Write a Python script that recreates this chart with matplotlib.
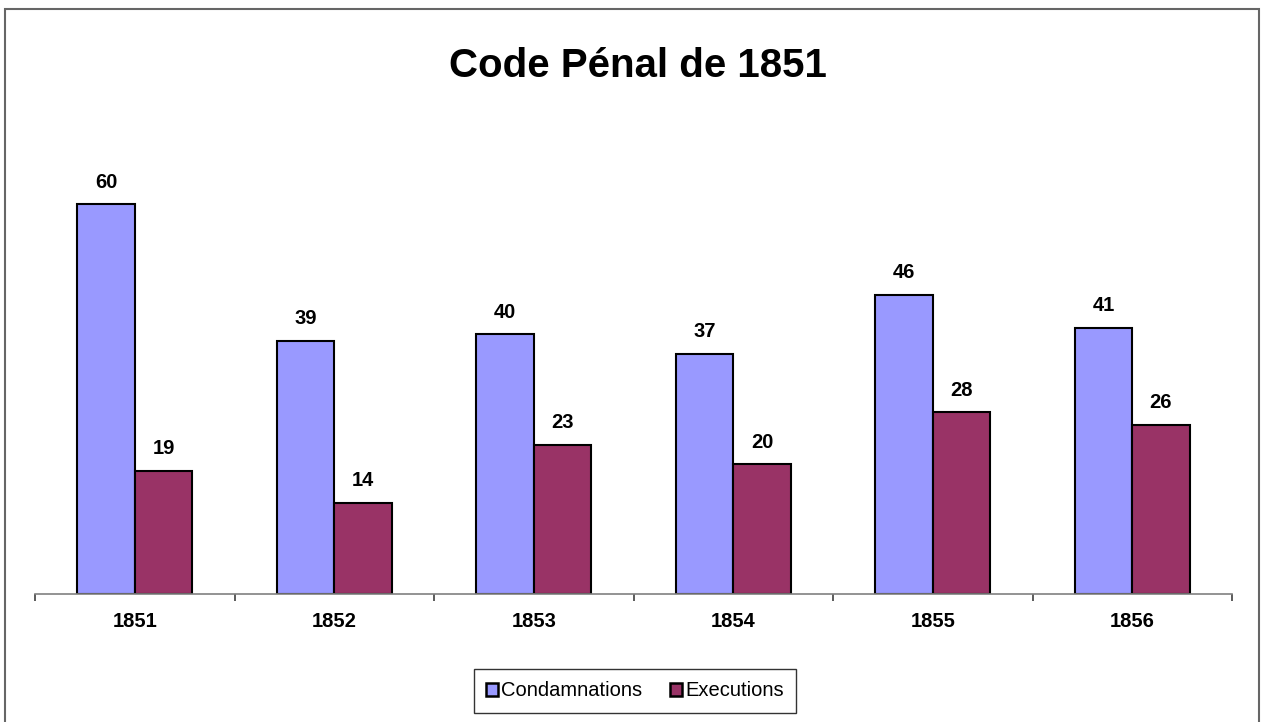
# Code Pénal de 1851 - condamnations vs executions
import numpy as np
import matplotlib
matplotlib.use("Agg")
import matplotlib.pyplot as plt
from matplotlib.patches import Rectangle

plt.rcParams['font.family'] = ['Liberation Sans', 'DejaVu Sans']

# data
years = ['1851', '1852', '1853', '1854', '1855', '1856']
condamnations = [60, 39, 40, 37, 46, 41]
executions = [19, 14, 23, 20, 28, 26]

col_cond = '#9999FF'
col_exec = '#993366'

W, H = 1261, 722
fig = plt.figure(figsize=(W / 100, H / 100), dpi=100)

# outer chart border
fig.patches.append(Rectangle((5 / W, -5 / H), 1254 / W, (H - 9 + 5) / H,
                             transform=fig.transFigure, fill=False,
                             edgecolor='#666666', linewidth=1.5))

ax = fig.add_axes([35 / W, 128 / H, 1197 / W, 455 / H])

x = np.arange(len(years))
bw = 0.288
b1 = ax.bar(x - bw, condamnations, bw, align='edge', color=col_cond,
            edgecolor='black', linewidth=1.5, label='Condamnations')
b2 = ax.bar(x, executions, bw, align='edge', color=col_exec,
            edgecolor='black', linewidth=1.5, label='Executions')

for bars in (b1, b2):
    for r in bars:
        ax.annotate(f'{int(r.get_height())}',
                    (r.get_x() + r.get_width() / 2, r.get_height()),
                    xytext=(0, 9), textcoords='offset points',
                    ha='center', va='bottom', fontsize=14.5, fontweight='bold')

ax.set_xlim(-0.5, len(years) - 0.5)
ax.set_ylim(0, 70)

for s in ['top', 'right', 'left']:
    ax.spines[s].set_visible(False)
ax.spines['bottom'].set_color('#808080')
ax.spines['bottom'].set_linewidth(1.2)

ax.set_yticks([])
ax.set_xticks(x)
ax.set_xticklabels(years, fontsize=14.5, fontweight='bold')
ax.tick_params(axis='x', which='major', length=0, pad=13)
ax.set_xticks(np.arange(-0.5, len(years)), minor=True)
ax.tick_params(axis='x', which='minor', length=5, width=1.2, color='#404040')

fig.text(638 / W, 1 - 66 / H, 'Code Pénal de 1851', ha='center', va='center',
         fontsize=29, fontweight='bold')

leg = fig.legend(loc='center', bbox_to_anchor=(635 / W, 31 / H), ncol=2,
                 fontsize=14.5, frameon=True, fancybox=False,
                 handlelength=0.6, handleheight=0.6, handletextpad=0.15,
                 columnspacing=1.4, borderpad=0.6)
leg.get_frame().set_edgecolor('black')
leg.get_frame().set_linewidth(1.0)
for h in leg.legend_handles:
    h.set_linewidth(1.8)

plt.savefig('out.png', dpi=100)
